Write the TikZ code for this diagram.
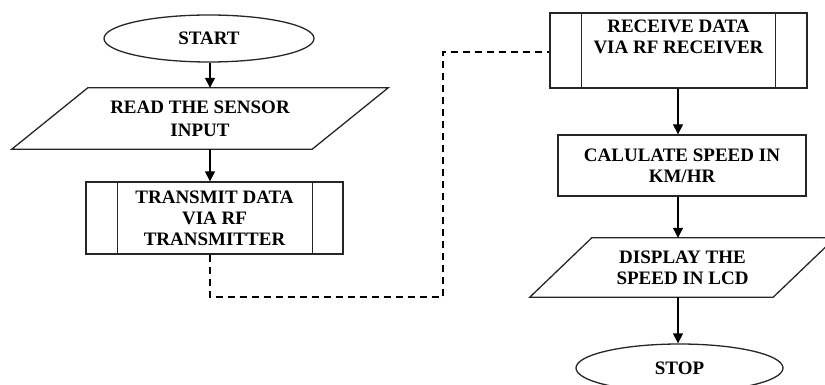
\documentclass[tikz,border=0pt]{standalone}
\usepackage{fontspec}
\setmainfont{Liberation Serif}
\usetikzlibrary{shapes.geometric,arrows.meta}
\begin{document}
\begin{tikzpicture}[x=1pt,y=-1pt,
  lbl/.style={font=\fontsize{19}{21}\selectfont\bfseries,align=center,inner sep=0pt},
  outline/.style={draw=black!85,line width=1.3pt},
  terminal/.style={lbl,outline,ellipse,minimum width=#1,minimum height=47pt},
  procbox/.style={lbl,outline,rectangle,minimum height=61pt},
  iobox/.style={lbl,rectangle,minimum height=#1},
  flow/.style={line width=1.3pt,-{Triangle[length=10pt,width=10pt]}},
  link/.style={line width=1.3pt,dash pattern=on 7.5pt off 4.5pt}]
\useasboundingbox (0,0) rectangle (825,385);
\clip (0,0) rectangle (825,385);

% column guides
\coordinate (colL) at (210,0);
\coordinate (colR) at (678,0);

% transmitter side
\node[terminal=210pt] (start) at (209,38.5) {START};
\node[iobox=61pt,minimum width=300pt] (read) at (200,118.5) {READ THE SENSOR\\[2pt]INPUT};
\draw[outline] ([xshift=38pt]read.north west) -- ([xshift=38pt]read.north east)
  -- ([xshift=-38pt]read.south east) -- ([xshift=-38pt]read.south west) -- cycle;
\node[procbox,minimum width=257pt,minimum height=72pt] (tx) at (214.5,218) {TRANSMIT DATA\\VIA RF\\TRANSMITTER};
\draw[outline] ([xshift=32pt]tx.north west) -- ([xshift=32pt]tx.south west);
\draw[outline] ([xshift=-31pt]tx.north east) -- ([xshift=-31pt]tx.south east);

% receiver side
\node[procbox,minimum width=257pt,minimum height=75pt] (rx) at (678.5,50.5) {RECEIVE DATA\\VIA RF RECEIVER\\\strut};
\draw[outline] ([xshift=32pt]rx.north west) -- ([xshift=32pt]rx.south west);
\draw[outline] ([xshift=-32pt]rx.north east) -- ([xshift=-32pt]rx.south east);
\node[procbox,minimum width=248pt] (calc) at (682,165.5) {CALULATE SPEED IN\\KM/HR};
\node[iobox=59pt,minimum width=243pt] (disp) at (682.5,267.5) {DISPLAY THE\\SPEED IN LCD};
\draw[outline] ([xshift=31pt]disp.north west) -- ([xshift=31pt]disp.north east)
  -- ([xshift=-31pt]disp.south east) -- ([xshift=-31pt]disp.south west) -- cycle;
\node[terminal=207pt,minimum height=48pt] (stop) at (679.5,368) {STOP};

% flow arrows
\draw[flow] (start.south -| colL) -- (read.north -| colL);
\draw[flow] (read.south -| colL) -- (tx.north -| colL);
\draw[flow] (rx.south -| colR) -- (calc.north -| colR);
\draw[flow] (calc.south -| colR) -- (disp.north -| colR);
\draw[flow] (disp.south -| colR) -- (stop.north -| colR);

% wireless link
\coordinate (bend) at (443,297);
\draw[link] (tx.south -| colL) |- (bend) |- ([yshift=-1.5pt]rx.west);
\end{tikzpicture}
\end{document}
